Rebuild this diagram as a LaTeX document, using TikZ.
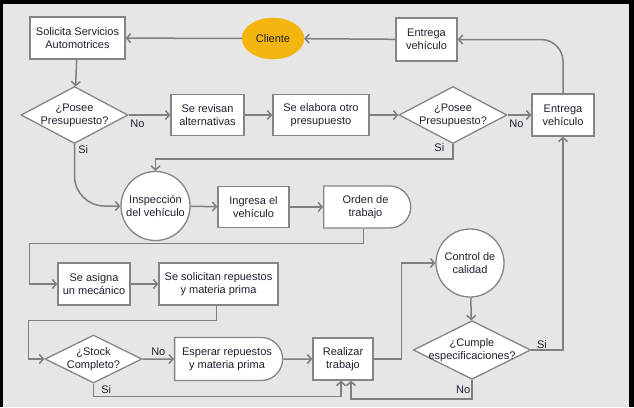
\documentclass[tikz,border=0pt]{standalone}
\usepackage{fontspec}
\setmainfont{Liberation Sans}
\usepackage{xcolor}
\usepackage{tikz}
\usetikzlibrary{arrows.meta,shapes.geometric,shapes.misc}
\definecolor{ink}{HTML}{1E2230}
\definecolor{wire}{HTML}{7F7F7F}
\definecolor{edge}{HTML}{858585}
\definecolor{canvas}{HTML}{E6E6E6}
\definecolor{gold}{HTML}{F5B50F}
\tikzset{
  box/.style     ={draw=edge,line width=1.3pt,fill=white,align=center,
                   inner sep=2pt,text=ink},
  decision/.style={diamond,draw=edge,line width=1.3pt,fill=white,align=center,
                   inner xsep=0pt,inner ysep=-4pt,shape aspect=2,text=ink},
  roundnode/.style={circle,draw=edge,line width=1.3pt,fill=white,align=center,
                   inner sep=0pt,text=ink},
  delaybox/.style={rounded rectangle,rounded rectangle left arc=none,draw=edge,
                   line width=1.3pt,fill=white,align=center,inner sep=2pt,text=ink},
  start/.style   ={ellipse,draw=gold,fill=gold,text=ink},
  flow/.style    ={-{Straight Barb[length=4pt,width=9pt]},line width=1.5pt,draw=wire},
  lbl/.style     ={text=ink,inner sep=1pt}
}

\begin{document}
\begin{tikzpicture}[x=1pt,y=-1pt,font=\fontsize{11}{13}\selectfont]
  \fill[canvas] (0,0) rectangle (634,407);
  \useasboundingbox (0,0) rectangle (634,407);
  % frame
  \fill[black] (0,0) rectangle (634,4);
  \fill[black] (0,0) rectangle (2.5,407);
  \fill[black] (629,0) rectangle (634,407);

  % top row
  \node[box,minimum width=95pt,minimum height=42pt] (solicita) at (77.5,38) {Solicita Servicios\\Automotrices};
  \node[start,minimum width=62pt,minimum height=41pt] (cliente) at (273,38.5) {Cliente};
  \node[box,minimum width=61pt,minimum height=43pt] (entregaA) at (426.5,39.5) {Entrega\\vehículo};

  % budget row
  \node[decision,minimum width=107pt,minimum height=57pt] (posee1) at (74.5,115) {¿Posee\\Presupuesto?};
  \node[box,minimum width=73pt,minimum height=41pt] (revisan) at (207.5,115) {Se revisan\\alternativas};
  \node[box,minimum width=96pt,minimum height=41pt] (elabora) at (321,115) {Se elabora otro\\presupuesto};
  \node[decision,minimum width=108pt,minimum height=57pt] (posee2) at (453,115) {¿Posee\\Presupuesto?};
  \node[box,minimum width=62pt,minimum height=42pt] (entregaB) at (563,115) {Entrega\\vehículo};

  % inspection row
  \node[roundnode,minimum size=69pt] (inspeccion) at (155.5,206) {Inspección\\del vehículo};
  \node[box,minimum width=71pt,minimum height=41pt] (ingresa) at (253.5,207) {Ingresa el\\vehículo};
  \node[delaybox,minimum width=91pt,minimum height=42pt] (orden) at (365.5,207) {Orden de\\trabajo};

  % parts row
  \node[box,minimum width=72pt,minimum height=42pt] (asigna) at (94,284) {Se asigna\\un mecánico};
  \node[box,minimum width=119pt,minimum height=42pt] (solicitan) at (218.5,284) {Se solicitan repuestos\\y materia prima};

  % work row
  \node[decision,minimum width=97pt,minimum height=48pt] (stock) at (93.5,359) {¿Stock\\Completo?};
  \node[delaybox,minimum width=112pt,minimum height=43pt] (esperar) at (227,359) {Esperar repuestos\\y materia prima};
  \node[box,minimum width=60pt,minimum height=42pt] (realizar) at (343,359) {Realizar\\trabajo};
  \node[roundnode,minimum size=68pt] (control) at (470,263) {Control de\\calidad};
  \node[decision,minimum width=117pt,minimum height=58pt] (cumple) at (472,350) {¿Cumple\\especificaciones?};

  \draw[flow] (entregaA) -- (cliente);
  \draw[flow] (cliente) -- (solicita);
  \draw[flow] (solicita) -- (posee1);
  \draw[flow] (posee1) -- node[pos=0,below right,lbl,yshift=-3pt]{No} (revisan);
  \draw[flow] (revisan) -- (elabora);
  \draw[flow] (elabora) -- (posee2);
  \draw[flow] (posee2) -- node[pos=0,below right,lbl,yshift=-3pt]{No} (entregaB);
  \draw[flow,rounded corners=22pt] (entregaB.north) |- (entregaA.east);
  \draw[flow] (posee2.south) node[below left,lbl,xshift=-7pt,yshift=2pt]{Si} -- ++(0,15) -| (inspeccion.north);
  \draw[flow,rounded corners=30pt] (posee1.south) node[below right,lbl,xshift=2pt]{Si} |- (inspeccion.west);
  \draw[flow] (inspeccion) -- (ingresa);
  \draw[flow] (ingresa) -- (orden);
  \draw[flow] ([xshift=-2pt]orden.south) -- ++(0,15) -| ([xshift=-28pt]asigna.west) -- (asigna.west);
  \draw[flow] (asigna) -- (solicitan);
  \draw[flow] ([xshift=-2pt]solicitan.south) -- ++(0,15) -| ([xshift=-16pt]stock.west) -- (stock.west);
  \draw[flow] (stock) -- node[above,lbl,yshift=2pt]{No} (esperar);
  \draw[flow] (esperar) -- (realizar);
  \draw[flow] (stock.south) node[below right,lbl,xshift=6pt]{Si} -- ++(0,13) -| ([xshift=-2pt]realizar.south);
  \draw[flow] (realizar.east) -- ++(28,0) |- (control.west);
  \draw[flow] (control) -- (cumple);
  \draw[flow] (cumple.east) node[above right,lbl,xshift=4pt]{Si} -| (entregaB.south);
  \draw[flow] (cumple.south) -- ++(0,19) node[midway,left,lbl]{No} -| ([xshift=8pt]realizar.south);
\end{tikzpicture}
\end{document}
